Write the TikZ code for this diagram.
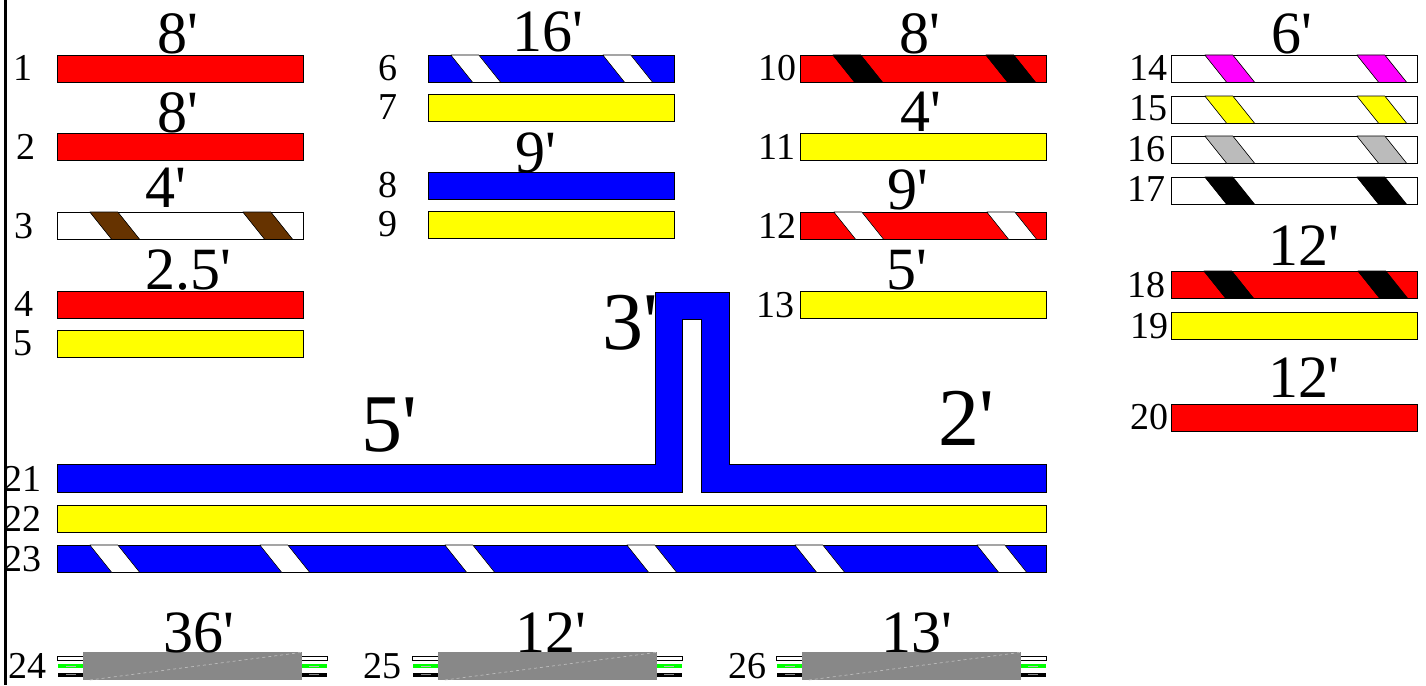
\documentclass[tikz,border=0pt]{standalone}
\usepackage{fontspec}
\setmainfont[Ligatures=TeXOff]{Liberation Serif}
\definecolor{barred}{HTML}{FF0000}
\definecolor{barblue}{HTML}{0000FF}
\definecolor{baryellow}{HTML}{FFFF00}
\definecolor{barmagenta}{HTML}{FF00FF}
\definecolor{wiregreen}{HTML}{00FF00}
\definecolor{woodbrown}{HTML}{663300}
\definecolor{cablegray}{HTML}{888888}
\definecolor{bandgray}{HTML}{BBBBBB}
\tikzset{
  bar/.style={draw=black, line width=0.8pt},
  band/.style={draw=black, line width=0.6pt, line join=bevel},
  numlabel/.style={anchor=base, inner sep=0pt, font=\fontsize{38}{38}\selectfont},
  lenlabel/.style={anchor=base, inner sep=0pt, font=\fontsize{60}{60}\selectfont},
  biglabel/.style={anchor=base, inner sep=0pt, font=\fontsize{82}{82}\selectfont},
}
\begin{document}
\begin{tikzpicture}[line join=miter, x=1pt, y=-1pt]
    \useasboundingbox (0,0) rectangle (1426,685);
    \draw[line width=2.5pt] (5.3,0) -- (5.3,685);
    \begin{scope}[xshift=-0.2pt]
    % plain bars
    \foreach \name/\x/\y/\col in {1/58/55/barred, 2/58/133/barred, 3/58/212/white, 4/58/291/barred, 5/58/330/baryellow,
        6/429/55/barblue, 7/429/94/baryellow, 8/429/172/barblue, 9/429/211/baryellow,
        10/801/55/barred, 11/801/133/baryellow, 12/801/212/barred, 13/801/291/baryellow,
        14/1172/55/white, 15/1172/96/white, 16/1172/136/white, 17/1172/177/white,
        18/1172/271/barred, 19/1172/312/baryellow, 20/1172/404/barred}
        \draw[bar, fill=\col] (\x,\y) rectangle ++(246,27.5);
    % slanted bands, two to a bar
    \foreach \x/\y/\col/\first/\second in {58/212/woodbrown/32/185,
        429/55/white/22/174,
        801/55/black/32/185, 801/212/white/33/186,
        1172/55/barmagenta/33/185, 1172/96/baryellow/33/185, 1172/136/bandgray/33/185, 1172/177/black/33/185,
        1172/271/black/32/186}
        \foreach \s in {\first,\second}
            \draw[band, fill=\col] (\x+\s,\y) -- ++(28,0) -- ++(22,27.5) -- ++(-28,0) -- cycle;
    % long pieces
    \draw[bar, fill=barblue] (58,464) -- (656,464) -- (656,292) -- (730,292) -- (730,464) -- (1047,464)
        -- (1047,492) -- (702,492) -- (702,319) -- (683,319) -- (683,492) -- (58,492) -- cycle;
    \draw[bar, fill=baryellow] (58,505) rectangle (1047,532.5);
    \draw[bar, fill=barblue] (58,545) rectangle (1047,572.5);
    \foreach \s in {90,260,445,627,795,977}
        \draw[band, fill=white] (\s,545) -- ++(28,0) -- ++(22,27.5) -- ++(-28,0) -- cycle;
    % cables
    \foreach \x in {58,413,777} {
        \foreach \side in {0,243.5} {
            \draw[line width=0.8pt, fill=white] (\x+\side,656.5) rectangle ++(26,3.5);
            \fill[wiregreen] (\x+\side,663.5) rectangle ++(26,4.5);
            \fill[black] (\x+\side,672.5) rectangle ++(26,4);
            \draw[bandgray, line width=0.3pt] (\x+\side+8,665.8) -- ++(10,0);
            \draw[cablegray, line width=0.3pt] (\x+\side+8,674.5) -- ++(10,0);
        }
        \fill[cablegray] (\x+25,652) rectangle ++(219,28);
        \draw[bandgray, dashed, line width=0.7pt] (\x+32,680) -- (\x+243,652.5);
    }
    \end{scope}
    % numbers
    \foreach \name/\x/\y in {1/23/81, 2/26/159, 3/24/238, 4/24/316, 5/23/355,
        6/388/80, 7/388/119, 8/388/197, 9/388/236,
        10/777/80, 11/777/159, 12/777/238, 13/775/317,
        14/1148/80, 15/1148/120, 16/1146/161, 17/1146/201, 18/1146/297, 19/1149/338, 20/1149/429,
        21/23/491, 22/23/531, 23/22/571, 24/28/678, 25/382/678, 26/747/678}
        \node[numlabel] (num\name) at (\x,\y) {\name};
    % lengths
    \foreach \name/\x/\y/\len in {a/178/54/8', b/178/132/8', c/166/207/4', d/188/289/2.5',
        e/548/52/16', f/536/172/9', g/920/53/8', h/921/131/4', i/908/209/9', j/907/289/5',
        k/1292/53/6', l/1304/265/12', m/1304/397/12',
        n/199/652/36', o/551/652/12', p/917/652/13'}
        \node[lenlabel] (len\name) at (\x,\y) {\len};
    \foreach \name/\x/\y/\len in {q/389/451/5', r/630/349/3', s/966/445/2'}
        \node[biglabel] (len\name) at (\x,\y) {\len};
\end{tikzpicture}
\end{document}
